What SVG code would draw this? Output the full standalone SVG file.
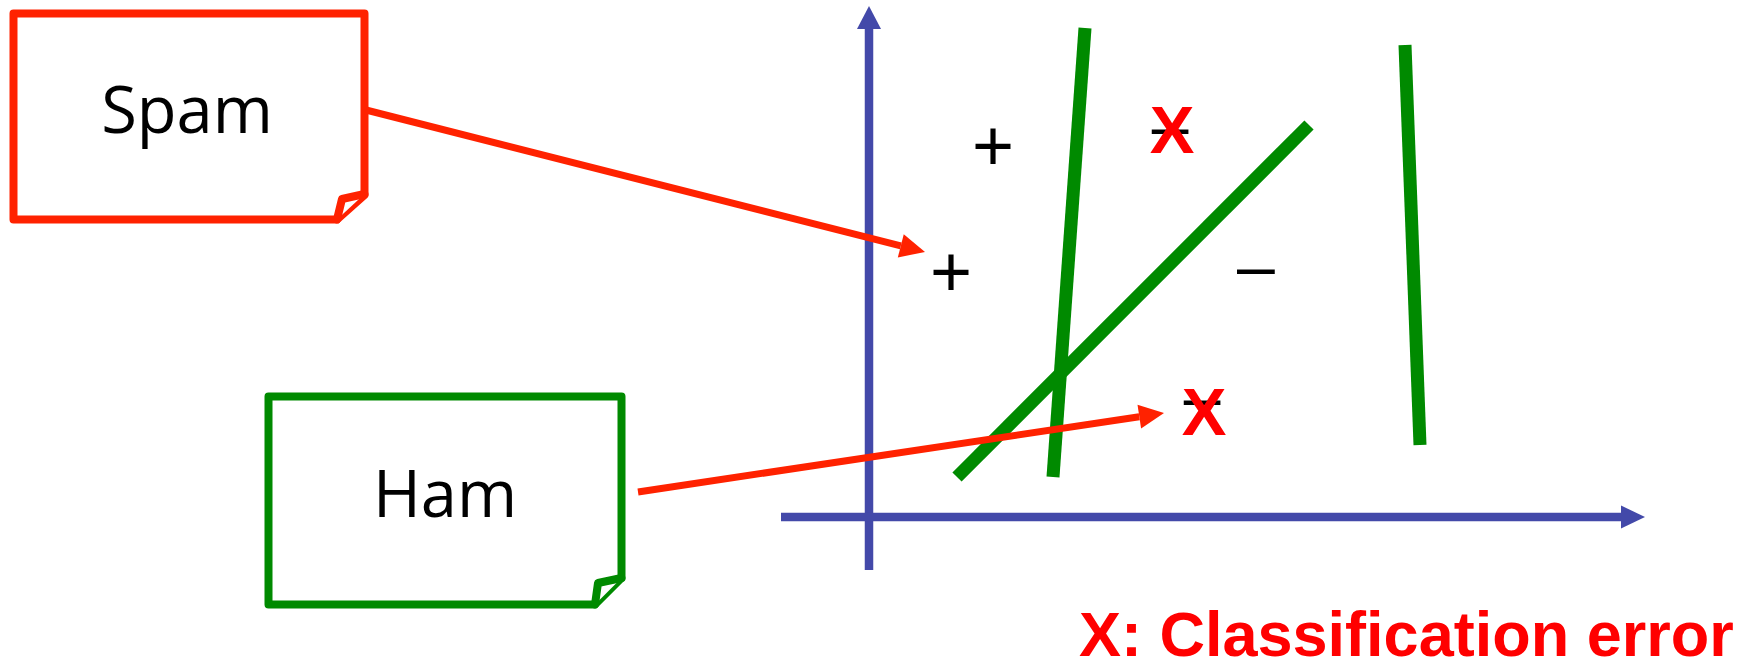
<svg xmlns="http://www.w3.org/2000/svg" width="1754" height="664" viewBox="0 0 1754 664">
<style>
.box{fill:#fff;stroke-width:8;stroke-linejoin:round;stroke-linecap:round}
.lbl{font-family:"Open Sans","Noto Sans",sans-serif;font-size:65px;fill:#000;text-anchor:middle}
.axis{stroke:#4349A9;stroke-width:8.5;fill:none}
.sep{stroke:#008A00;stroke-width:13;fill:none}
.arr{stroke:#FF2200;stroke-width:7;fill:none}
.sym{font-family:"Liberation Sans",Arial,sans-serif;fill:#000;text-anchor:middle}
.err{font-family:"Liberation Sans",Arial,sans-serif;font-weight:bold;fill:#FF0000}
</style>
<defs>
<marker id="redhead" markerUnits="userSpaceOnUse" markerWidth="28" markerHeight="26" refX="0" refY="12" orient="auto" overflow="visible">
<path d="M0,0 L25,12 L0,24 Z" fill="#FF2200"/>
</marker>
</defs>
<rect width="1754" height="664" fill="#fff"/>
<g id="axes">
<line class="axis" x1="869" y1="570" x2="869" y2="28"/>
<path d="M869,6 L881,29 L857,29 Z" fill="#4349A9"/>
<line class="axis" x1="781" y1="517" x2="1622" y2="517"/>
<path d="M1645,517 L1621,505.5 L1621,528.5 Z" fill="#4349A9"/>
</g>
<g id="separators">
<line class="sep" x1="1085" y1="28" x2="1053" y2="477"/>
<line class="sep" x1="1309" y1="125" x2="957" y2="477"/>
<line class="sep" x1="1405" y1="45" x2="1420" y2="445"/>
</g>
<g id="spam">
<path class="box" stroke="#FF2200" d="M13.5,13.5 H364.5 V195 L337,219.5 H13.5 Z"/>
<path class="box" stroke="#FF2200" fill="none" d="M337,219.5 L342,199 L364.5,194"/>
<text class="lbl" x="187" y="133">Spam</text>
</g>
<g id="ham">
<path class="box" stroke="#008A00" d="M268.5,396.5 H621.5 V578 L595,604.5 H268.5 Z"/>
<path class="box" stroke="#008A00" fill="none" d="M595,604.5 L598,583 L621.5,578"/>
<text class="lbl" x="445" y="517">Ham</text>
</g>
<g id="points">
<text class="sym" x="993" y="170" font-size="72">+</text>
<text class="sym" x="951" y="296" font-size="72">+</text>
<text class="sym" x="1256" y="289" font-size="68">–</text>
<text class="sym" x="1170" y="149" font-size="66">–</text>
<text class="sym" x="1202" y="420" font-size="66">–</text>
<text class="err" x="1172" y="153" font-size="67" text-anchor="middle">X</text>
<text class="err" x="1204" y="435" font-size="67" text-anchor="middle">X</text>
</g>
<g id="connectors">
<line class="arr" x1="366" y1="110" x2="900.8" y2="245.8" marker-end="url(#redhead)"/>
<line class="arr" x1="638" y1="492" x2="1139.3" y2="416.7" marker-end="url(#redhead)"/>
</g>
<g id="legend">
<text class="err" x="1079" y="656" font-size="63">X: Classification error</text>
</g>
</svg>
